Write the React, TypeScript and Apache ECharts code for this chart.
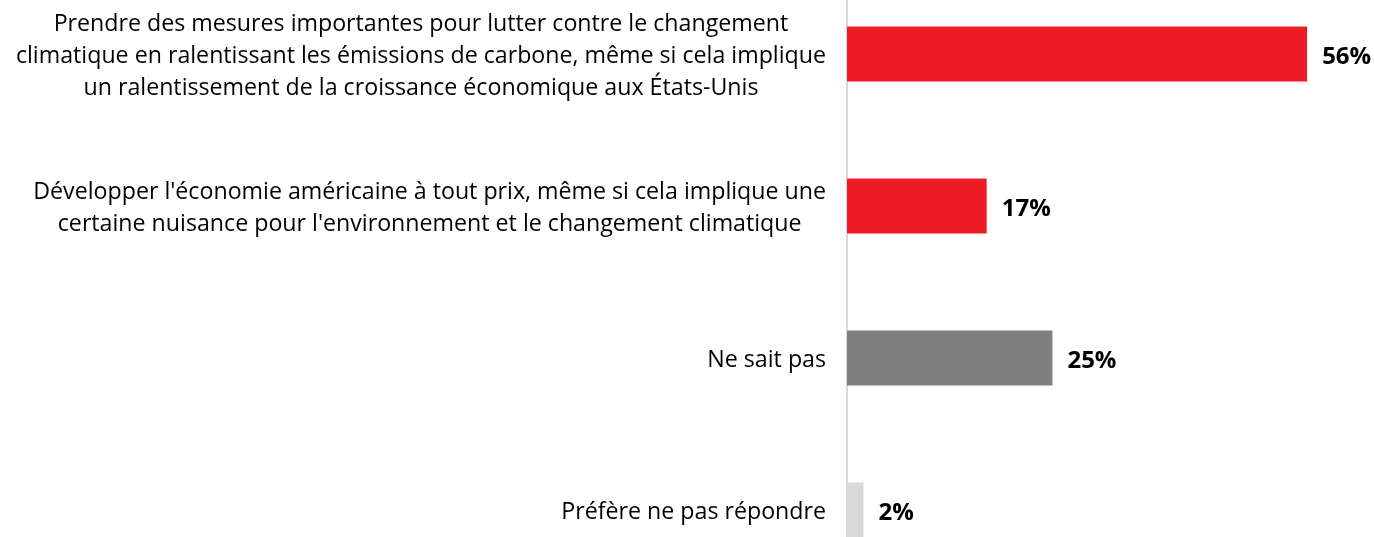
import React, { useEffect, useRef } from "react";
import * as echarts from "echarts";

const categories: string[] = [
  "Prendre des mesures importantes pour lutter contre le changement\nclimatique en ralentissant les émissions de carbone, même si cela implique\nun ralentissement de la croissance économique aux États-Unis",
  "Développer l'économie américaine à tout prix, même si cela implique une\ncertaine nuisance pour l'environnement et le changement climatique",
  "Ne sait pas",
  "Préfère ne pas répondre",
];
const values: number[] = [56, 17, 25, 2];
const barColors: string[] = ["#ED1C24", "#ED1C24", "#7F7F7F", "#D9D9D9"];

const FONT = "Open Sans";

export default function App() {
  const ref = useRef<HTMLDivElement>(null);
  useEffect(() => {
    if (!ref.current) return;
    const chart = echarts.init(ref.current, null, { renderer: "svg" });
    chart.setOption({
      animation: false,
      grid: { left: 847, right: 34, top: 0, height: 608 },
      xAxis: {
        type: "value",
        min: 0,
        max: 60,
        show: false,
      },
      yAxis: {
        type: "category",
        inverse: true,
        data: categories,
        axisLine: { show: true, lineStyle: { color: "#D9D9D9", width: 2 } },
        axisTick: { show: false },
        splitLine: { show: false },
        axisLabel: {
          margin: 21,
          align: "right",
          formatter: (v: string) =>
            v
              .split("\n")
              .map((l) => `{c|${l}}`)
              .join("\n"),
          rich: {
            c: {
              align: "center",
              fontFamily: FONT,
              fontSize: 23.2,
              lineHeight: 32,
              color: "#000",
            },
          },
        },
      },
      series: [
        {
          type: "bar",
          barWidth: 55,
          data: values.map((v, i) => ({ value: v, itemStyle: { color: barColors[i] } })),
          label: {
            show: true,
            position: "right",
            distance: 15,
            formatter: "{c}%",
            fontFamily: FONT,
            fontSize: 24,
            fontWeight: "bold",
            color: "#000",
          },
        },
      ],
    });
    return () => chart.dispose();
  }, []);
  return (
    <div
      ref={ref}
      style={{ position: "fixed", left: 0, top: -22.5, width: 1374, height: 660 }}
    />
  );
}
